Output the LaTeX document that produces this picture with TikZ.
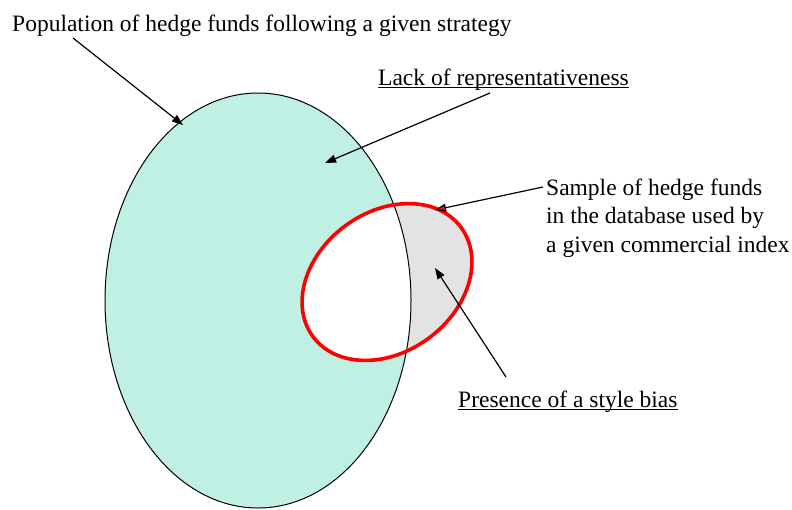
\documentclass[tikz,border=0pt]{standalone}
\usepackage{fontspec}
\setmainfont{Liberation Serif}
\usetikzlibrary{arrows.meta}
\definecolor{popgreen}{RGB}{191,240,227}
\definecolor{biasgray}{RGB}{227,227,227}
\begin{document}
\begin{tikzpicture}[x=1pt,y=-1pt,
  lbl/.style={inner sep=0pt, font=\fontsize{23.5}{28.5}\selectfont},
  pointer/.style={line width=1.2pt, -{Triangle[length=11pt,width=8pt]}},
  uline/.style={line width=0.9pt}]
\useasboundingbox (0,0) rectangle (792,509);
% population ellipse
\fill[popgreen] (258,300.5) ellipse [x radius=153pt, y radius=207.5pt];
% sample ellipse fill (outside population = gray)
\begin{scope}[shift={(387,282)}, rotate=36.3]
  \fill[biasgray] (0,0) ellipse [x radius=92pt, y radius=70pt];
\end{scope}
\begin{scope}
  \clip (258,300.5) ellipse [x radius=153pt, y radius=207.5pt];
  \begin{scope}[shift={(387,282)}, rotate=36.3]
    \fill[white] (0,0) ellipse [x radius=92pt, y radius=70pt];
  \end{scope}
\end{scope}
\draw[line width=1pt] (258,300.5) ellipse [x radius=153pt, y radius=207.5pt];
\begin{scope}[shift={(387,282)}, rotate=36.3]
  \draw[red, line width=3.6pt] (0,0) ellipse [x radius=92pt, y radius=70pt];
\end{scope}

% labels
\node[lbl, anchor=base west] (pop) at (12,31) {Population of hedge funds following a given strategy};
\node[lbl, anchor=base west] (lack) at (378,85) {Lack of representativeness};
\node[lbl, anchor=base west] (s1) at (546,195) {Sample of hedge funds};
\node[lbl, anchor=base west] (s2) at (546,223.5) {in the database used by};
\node[lbl, anchor=base west] (s3) at (546,252) {a given commercial index};
\node[lbl, anchor=base west] (bias) at (458,407) {Presence of a style bias};
\draw[uline] ([yshift=-2.8pt]lack.base west) -- ([yshift=-2.8pt]lack.base east);
\draw[uline] ([yshift=-2.8pt]bias.base west) -- ([yshift=-2.8pt]bias.base east);

% arrow ends
\coordinate (popS) at (73,38);
\coordinate (popT) at (183,125);
\coordinate (lackS) at (490,93);
\coordinate (lackT) at (325,163);
\coordinate (sampS) at (543,187);
\coordinate (sampT) at (435,210);
\coordinate (biasS) at (506,377);
\coordinate (biasT) at (435,268);
\draw[pointer] (popS) -- (popT);
\draw[pointer] (lackS) -- (lackT);
\draw[line width=1.2pt, -{Triangle[length=11pt,width=8pt,fill=red]}] (sampS) -- (sampT);
\draw[pointer] (biasS) -- (biasT);
\end{tikzpicture}
\end{document}
